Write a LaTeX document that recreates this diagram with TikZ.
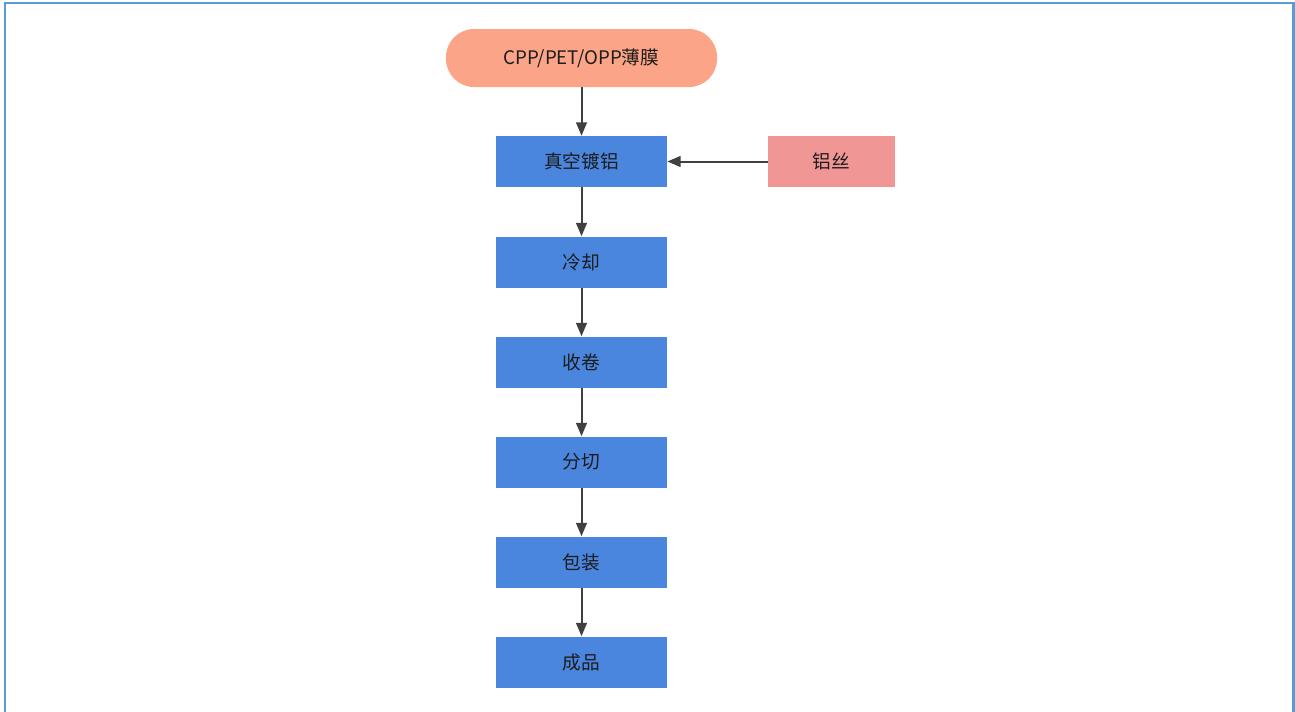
\documentclass[tikz,border=0pt]{standalone}
\usepackage{fontspec}
\setmainfont{Noto Sans CJK SC}
\usetikzlibrary{arrows.meta}
\definecolor{frameblue}{HTML}{5B9BD5}
\definecolor{boxblue}{HTML}{4A86DE}
\definecolor{pillsalmon}{HTML}{FBA487}
\definecolor{wirepink}{HTML}{F09796}
\definecolor{arrowgray}{HTML}{404040}
\definecolor{txt}{HTML}{1C1C1C}
\tikzset{
  stepbox/.style={rectangle, fill=boxblue, minimum width=128.25pt, minimum height=38.25pt, inner sep=0pt, text=txt, font=\fontsize{14}{16}\selectfont},
  pill/.style={rectangle, rounded corners=21pt, fill=pillsalmon, minimum width=203.25pt, minimum height=43.5pt, inner sep=0pt, text=txt, font=\fontsize{14}{16}\selectfont},
  wirebox/.style={rectangle, fill=wirepink, minimum width=95.25pt, minimum height=38.25pt, inner sep=0pt, text=txt, font=\fontsize{14}{16}\selectfont},
  flow/.style={draw=arrowgray, line width=1.5pt, -{Triangle[length=10pt,width=8pt]}}
}
\begin{document}
\begin{tikzpicture}[x=0.75pt,y=-0.75pt]
\useasboundingbox (0,0) rectangle (1295,711);
\fill[white] (0,0) rectangle (1295,711);
\draw[frameblue, line width=2.2pt] (5,720) -- (5,3) -- (1293.5,3) -- (1293.5,720);
\node[pill] (film) at (581.5,58) {CPP/PET/OPP薄膜};
\node[stepbox] (vac) at (581.5,161.5) {真空镀铝};
\node[wirebox] (wire) at (831.5,161.5) {铝丝};
\node[stepbox] (cool) at (581.5,262) {冷却};
\node[stepbox] (roll) at (581.5,362) {收卷};
\node[stepbox] (cut) at (581.5,462) {分切};
\node[stepbox] (pack) at (581.5,562) {包装};
\node[stepbox] (prod) at (581.5,662) {成品};
\draw[flow] (film) -- (vac);
\draw[flow] (wire) -- (vac);
\draw[flow] (vac) -- (cool);
\draw[flow] (cool) -- (roll);
\draw[flow] (roll) -- (cut);
\draw[flow] (cut) -- (pack);
\draw[flow] (pack) -- (prod);
\end{tikzpicture}
\end{document}
